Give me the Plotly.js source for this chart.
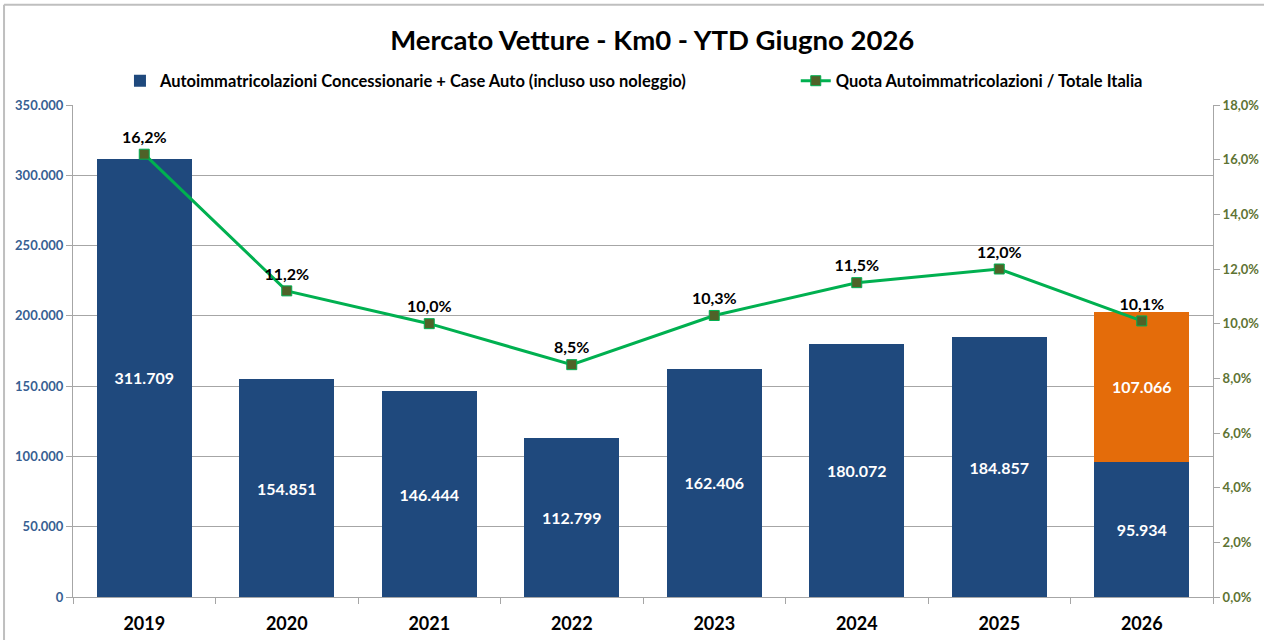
<!DOCTYPE html>
<html>
<head>
<meta charset="utf-8">
<script src="https://cdn.plot.ly/plotly-3.0.1.min.js"></script>
<style>html,body{margin:0;padding:0;background:#fff;}#chart{width:1264px;height:640px;}</style>
</head>
<body>
<div id="chart"></div>
<script>
const years = ["2019","2020","2021","2022","2023","2024","2025","2026"];
const autoImm = [311709, 154851, 146444, 112799, 162406, 180072, 184857, 95934];
const extra2026 = [null, null, null, null, null, null, null, 107066];
const quota = [0.162, 0.112, 0.100, 0.085, 0.103, 0.115, 0.120, 0.101];
const leftTicks = [0, 50000, 100000, 150000, 200000, 250000, 300000, 350000];
const rightTicks = [0, 0.02, 0.04, 0.06, 0.08, 0.10, 0.12, 0.14, 0.16, 0.18];

const FONT = "Lato, 'Open Sans', sans-serif";
const blue = "#1F497D";
const orange = "#E46C0A";
const green = "#00B050";

const traces = [
  {
    type: "bar", x: years, y: autoImm, name: "Autoimmatricolazioni Concessionarie + Case Auto (incluso uso noleggio)",
    marker: {color: blue}, texttemplate: "%{y:,d}", textposition: "inside", insidetextanchor: "middle",
    textfont: {color: "#fff", size: 16, family: FONT, weight: "bold"}, legend: "legend", hoverinfo: "y"
  },
  {
    type: "bar", x: years, y: extra2026, name: "2026 extra", showlegend: false,
    marker: {color: orange}, texttemplate: "%{y:,d}", textposition: "inside", insidetextanchor: "middle",
    textfont: {color: "#fff", size: 16, family: FONT, weight: "bold"}, hoverinfo: "y"
  },
  {
    type: "scatter", mode: "lines+markers+text", x: years, y: quota, yaxis: "y2",
    name: "Quota Autoimmatricolazioni / Totale Italia", legend: "legend2",
    line: {color: green, width: 3},
    marker: {symbol: "square", size: 10, color: "#4F6228", line: {color: green, width: 1}},
    texttemplate: "%{y:.1%}", textposition: "top center",
    textfont: {color: "#000", size: 16, family: FONT, weight: "bold"}, cliponaxis: false
  }
];

const layout = {
  width: 1264, height: 640,
  separators: ",.",
  font: {family: FONT},
  paper_bgcolor: "#fff", plot_bgcolor: "#fff",
  margin: {l: 73, r: 51, t: 105, b: 43},
  barmode: "stack", bargap: 0.33,
  title: {text: "Mercato Vetture - Km0 - YTD Giugno 2026", x: 0.516, xanchor: "center", y: 0.937, yanchor: "middle",
          font: {size: 27.5, color: "#000", family: FONT, weight: "bold"}},
  showlegend: true,
  legend: {orientation: "h", x: 0.0412, xanchor: "left", y: 1.0488, yanchor: "middle",
           font: {size: 16.5, color: "#000", family: FONT, weight: "bold"}, bgcolor: "rgba(0,0,0,0)", itemwidth: 30},
  legend2: {orientation: "h", x: 0.634, xanchor: "left", y: 1.0488, yanchor: "middle",
           font: {size: 16.5, color: "#000", family: FONT, weight: "bold"}, bgcolor: "rgba(0,0,0,0)", itemwidth: 30},
  xaxis: {
    type: "category", showline: true, linecolor: "#A6A6A6", linewidth: 1,
    ticks: "outside", tickson: "boundaries", ticklen: 6, tickcolor: "#A6A6A6",
    ticklabelstandoff: 10,
    tickfont: {size: 18, color: "#000", family: FONT, weight: "bold"}, showgrid: false
  },
  yaxis: {
    range: [0, 350000], tickvals: leftTicks, tickformat: ",d",
    showline: true, linecolor: "#A6A6A6", linewidth: 1,
    ticks: "outside", ticklen: 6, tickcolor: "#A6A6A6",
    showgrid: true, gridcolor: "#A6A6A6", gridwidth: 1, zeroline: false,
    tickfont: {size: 13, color: "#376092", family: FONT, weight: "bold"}
  },
  yaxis2: {
    overlaying: "y", side: "right", range: [0, 0.18], tickvals: rightTicks, tickformat: ".1%",
    showline: true, linecolor: "#A6A6A6", linewidth: 1,
    ticks: "outside", ticklen: 6, tickcolor: "#A6A6A6",
    showgrid: false, zeroline: false,
    tickfont: {size: 13, color: "#5E7333", family: FONT, weight: "bold"}
  },
  shapes: [
    {type: "line", xref: "paper", yref: "paper", x0: -0.0605, x1: 1.05, y0: 1.204, y1: 1.204, line: {color: "#BFBFBF", width: 2}},
    {type: "line", xref: "paper", yref: "paper", x0: -0.0605, x1: -0.0605, y0: 1.204, y1: -0.2, line: {color: "#BFBFBF", width: 2}}
  ]
};

Plotly.newPlot("chart", traces, layout, {displayModeBar: false, responsive: false});
</script>
</body>
</html>
